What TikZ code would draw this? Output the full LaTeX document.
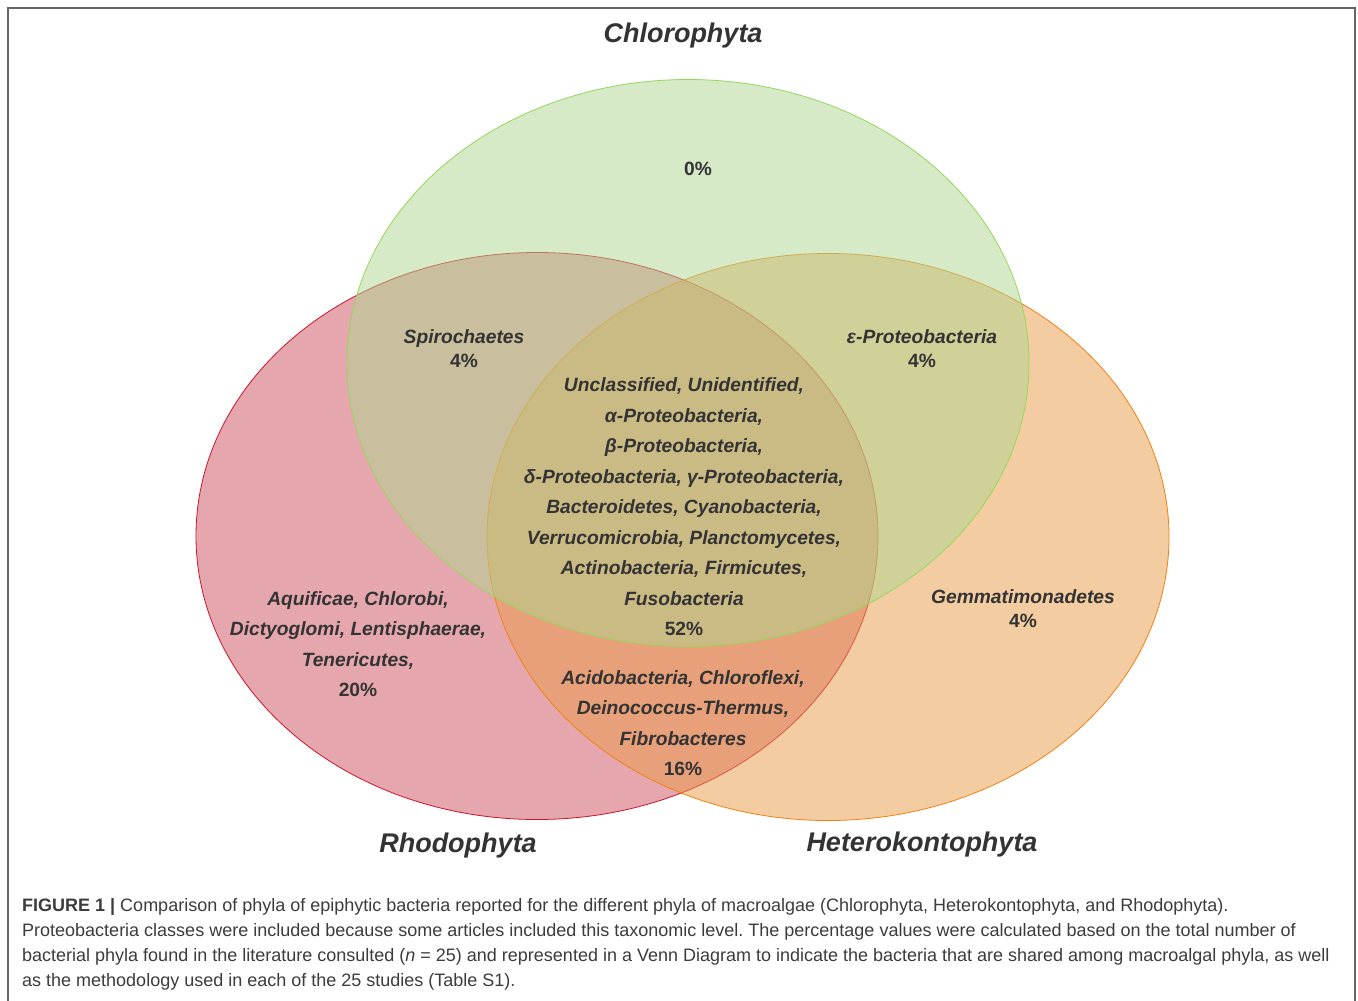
\documentclass[tikz,border=0pt]{standalone}
\usepackage{fontspec}
\setmainfont{Liberation Sans}
\newfontfamily\capfont{Liberation Sans}
\usetikzlibrary{shapes.geometric}

\definecolor{rhofill}{RGB}{205,81,93}
\definecolor{rhoedge}{RGB}{204,20,45}
\definecolor{hetfill}{RGB}{233,155,71}
\definecolor{hetedge}{RGB}{240,130,20}
\definecolor{chlfill}{RGB}{175,215,145}
\definecolor{chledge}{RGB}{150,215,90}
\definecolor{txt}{RGB}{51,51,51}
\definecolor{captxt}{RGB}{60,60,60}

\newcommand{\pcent}[1]{{\upshape #1\%}}
\frenchspacing

\begin{document}
\begin{tikzpicture}[x=1pt, y=-1pt, inner sep=0pt]
    \tikzstyle{set}=[ellipse, minimum width=682pt, minimum height=567pt, fill opacity=0.5, line width=0.8pt]
    \tikzstyle{rho}=[set, fill=rhofill, draw=rhoedge]
    \tikzstyle{het}=[set, fill=hetfill, draw=hetedge]
    \tikzstyle{chl}=[set, fill=chlfill, draw=chledge]
    \tikzstyle{title}=[text=txt, font=\fontsize{27}{27}\selectfont\bfseries\itshape]
    \tikzstyle{lab}=[align=center, text=txt, font=\fontsize{19.2}{30.5}\selectfont\bfseries\itshape]
    \tikzstyle{labtwo}=[lab, font=\fontsize{19.2}{24}\selectfont\bfseries\itshape]
    \tikzstyle{frame}=[draw=gray!80!black, line width=1.2pt]

    \useasboundingbox (0,0) rectangle (1358,1001);
    \fill[white] (0,0) rectangle (1358,1001);
    \draw[frame] (8,8) rectangle (1355,1012);

    % the three sets
    \node[rho] (Rho) at (537,536) {};
    \node[het] (Het) at (828,537) {};
    \node[chl] (Chl) at (688,363) {};

    \node[title] (tChl) at (683,36) {Chlorophyta};
    \node[title] (tRho) at (458,846) {Rhodophyta};
    \node[title] (tHet) at (922,845) {Heterokontophyta};

    % regions
    \node[lab] (onlyChl) at (698,169) {\pcent{0}};
    \node[labtwo] (RhoChl) at (464,349) {Spirochaetes\\\pcent{4}};
    \node[labtwo] (HetChl) at (922,349) {ε-Proteobacteria\\\pcent{4}};
    \node[labtwo] (onlyHet) at (1023,609) {Gemmatimonadetes\\\pcent{4}};
    \node[lab] (onlyRho) at (358,644) {Aquificae, Chlorobi,\\Dictyoglomi, Lentisphaerae,\\Tenericutes,\\\pcent{20}};
    \node[lab] (RhoHet) at (683,723) {Acidobacteria, Chloroflexi,\\Deinococcus-Thermus,\\Fibrobacteres\\\pcent{16}};
    \node[lab] (all) at (684,507) {Unclassified, Unidentified,\\α-Proteobacteria,\\β-Proteobacteria,\\δ-Proteobacteria, γ-Proteobacteria,\\Bacteroidetes, Cyanobacteria,\\Verrucomicrobia, Planctomycetes,\\Actinobacteria, Firmicutes,\\Fusobacteria\\\pcent{52}};

    % caption
    \node[anchor=north west, align=left, text=captxt, font=\capfont\fontsize{18}{25}\selectfont] (cap) at (22,898)
        {{\bfseries FIGURE 1 |} Comparison of phyla of epiphytic bacteria reported for the different phyla of macroalgae (Chlorophyta, Heterokontophyta, and Rhodophyta).\\
        Proteobacteria classes were included because some articles included this taxonomic level. The percentage values were calculated based on the total number of\\
        bacterial phyla found in the literature consulted (\textit{n} = 25) and represented in a Venn Diagram to indicate the bacteria that are shared among macroalgal phyla, as well\\
        as the methodology used in each of the 25 studies (Table S1).};
\end{tikzpicture}
\end{document}
